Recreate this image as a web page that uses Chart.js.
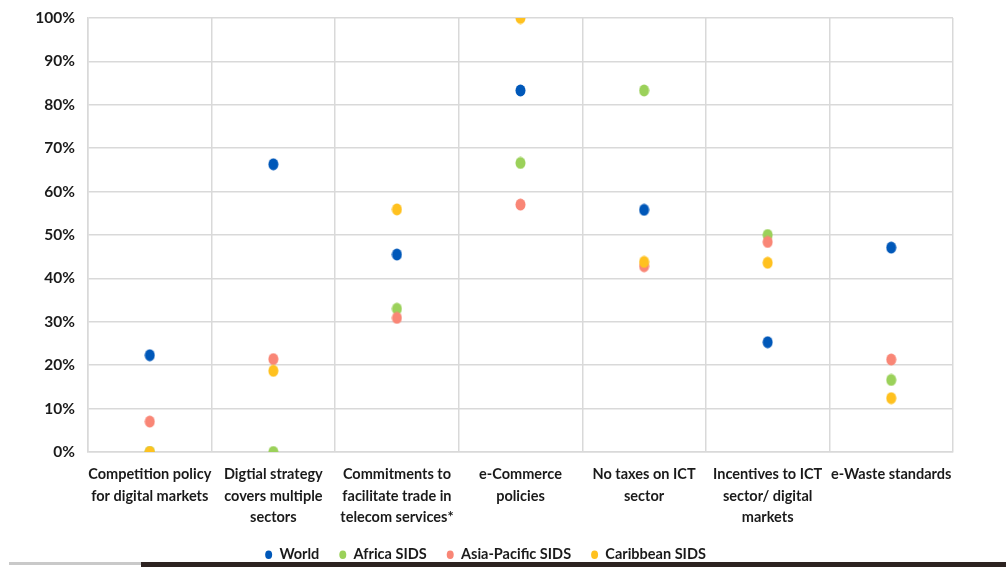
<!DOCTYPE html>
<html>
<head>
<meta charset="utf-8">
<script src="https://cdn.jsdelivr.net/npm/chart.js@4/dist/chart.umd.min.js"></script>
<style>
  html, body { margin: 0; padding: 0; background: #fff; }
  #wrap { position: relative; width: 1006px; height: 567px; overflow: hidden; }
  #bar1 { position: absolute; left: 9px; top: 562px; width: 132px; height: 3px; background: #c9c9c9; }
  #bar2 { position: absolute; left: 141px; top: 562px; width: 865px; height: 5px; background: #2d2321; }
</style>
</head>
<body>
<div id="wrap">
  <canvas id="c" width="1006" height="567"></canvas>
  <div id="bar1"></div>
  <div id="bar2"></div>
</div>
<script>
const categories = [
  ["Competition policy", "for digital markets"],
  ["Digtial strategy", "covers multiple", "sectors"],
  ["Commitments to", "facilitate trade in", "telecom services*"],
  ["e-Commerce", "policies"],
  ["No taxes on ICT", "sector"],
  ["Incentives to ICT", "sector/ digital", "markets"],
  ["e-Waste standards"]
];
const seriesNames = ["World", "Africa SIDS", "Asia-Pacific SIDS", "Caribbean SIDS"];
const world       = [22.3, 66.3, 45.5, 83.3, 55.8, 25.3, 47.1];
const africaSIDS  = [0,    0,    33.0, 66.6, 83.3, 50.0, 16.6];
const asiaPacSIDS = [7.0,  21.4, 30.9, 57.0, 42.8, 48.4, 21.3];
const caribSIDS   = [0,    18.7, 55.9, 100,  43.8, 43.6, 12.4];
const yTicks = [0, 10, 20, 30, 40, 50, 60, 70, 80, 90, 100];

const colors = ["#0058B9", "#9BD15A", "#F98676", "#FFC11F"];

function makeDot(color) {
  const cv = document.createElement('canvas');
  cv.width = 11; cv.height = 13;
  const g = cv.getContext('2d');
  g.fillStyle = color;
  g.beginPath();
  g.ellipse(5.5, 6.5, 5, 6, 0, 0, Math.PI * 2);
  g.fill();
  return cv;
}

const seriesData = [world, africaSIDS, asiaPacSIDS, caribSIDS];
const datasets = seriesNames.map((name, i) => ({
  label: name,
  data: seriesData[i],
  showLine: false,
  pointStyle: makeDot(colors[i]),
  pointRadius: 6,
  backgroundColor: colors[i],
  borderColor: colors[i],
  order: seriesNames.length - i
}));

const gridColor = '#d9d9d9';
const fontFamily = 'Lato, sans-serif';
const fontWeight = 'bold';

new Chart(document.getElementById('c'), {
  type: 'line',
  data: { labels: categories, datasets: datasets },
  options: {
    responsive: false,
    animation: false,
    layout: { padding: { top: 18, right: 53, left: 18, bottom: -5 } },
    scales: {
      x: {
        type: 'category',
        offset: true,
        grid: { offset: true, color: gridColor, lineWidth: 1.5, drawTicks: false },
        border: { color: gridColor, width: 1.5 },
        ticks: {
          color: '#1a1a1a',
          font: { family: fontFamily, size: 14.5, weight: fontWeight, lineHeight: 1.48 },
          padding: 12,
          maxRotation: 0,
          autoSkip: false
        },
        afterFit: (s) => { s.height = 75.5; s.paddingLeft = 0; s.paddingRight = 0; }
      },
      y: {
        min: 0, max: 100,
        afterBuildTicks: (s) => { s.ticks = yTicks.map(v => ({ value: v })); },
        grid: { color: gridColor, lineWidth: 1.5, drawTicks: false },
        border: { color: gridColor, width: 1.5 },
        ticks: {
          color: '#1a1a1a',
          font: { family: fontFamily, size: 15.5, weight: fontWeight },
          padding: 13,
          callback: (v) => v + '%'
        },
        afterFit: (s) => { s.width = 70; s.paddingTop = 0; s.paddingBottom = 0; }
      }
    },
    plugins: {
      tooltip: { enabled: false },
      legend: {
        position: 'bottom',
        labels: {
          color: '#1a1a1a',
          font: { family: fontFamily, size: 14.5, weight: fontWeight },
          usePointStyle: true,
          boxHeight: 6,
          pointStyleWidth: 7,
          padding: 20,
          sort: (a, b) => a.datasetIndex - b.datasetIndex,
          generateLabels: (chart) => {
            const items = Chart.defaults.plugins.legend.labels.generateLabels(chart);
            items.forEach(it => { it.pointStyle = 'circle'; it.lineWidth = 0; it.strokeStyle = 'rgba(0,0,0,0)'; });
            return items;
          }
        }
      }
    }
  }
});
</script>
</body>
</html>
